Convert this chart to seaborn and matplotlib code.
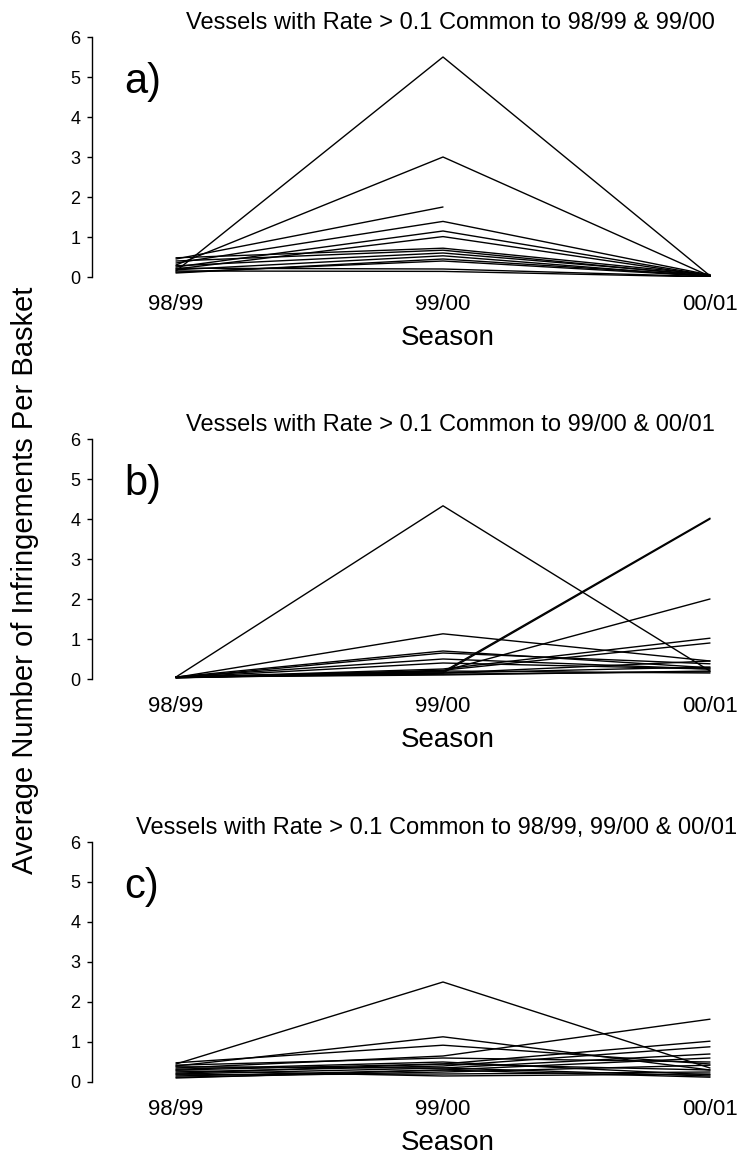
import numpy as np
import pandas as pd
import matplotlib
matplotlib.use("Agg")
import matplotlib.pyplot as plt
import seaborn as sns

seasons = ["98/99", "99/00", "00/01"]

# Panel a: vessels common to 98/99 & 99/00 (values per season)
a_9899 = [0.15, 0.30, 0.45, 0.35, 0.25, 0.20, 0.48, 0.40, 0.18, 0.28, 0.12, 0.22, 0.15, 0.10]
a_9900 = [5.50, 3.00, 1.75, 1.39, 1.15, 1.01, 0.72, 0.67, 0.53, 0.60, 0.40, 0.20, 0.14, 0.45]
a_0001 = [0.03, 0.02, np.nan, 0.05, 0.04, 0.03, 0.06, 0.02, 0.01, 0.05, 0.02, 0.01, 0.00, 0.03]

# Panel b: vessels common to 99/00 & 00/01
b_9899 = [0.05, 0.03, 0.04, 0.05, 0.04, 0.05, 0.03, 0.05, 0.04, 0.03, 0.05, 0.04, 0.05, 0.03, 0.04, 0.05]
b_9900 = [4.33, 0.15, 0.18, 0.20, 1.13, 0.70, 0.65, 0.50, 0.25, 0.22, 0.15, 0.15, 0.12, 0.20, 0.40, 0.10]
b_0001 = [0.20, 4.00, 4.02, 2.00, 0.45, 0.28, 0.38, 0.25, 1.02, 0.90, 0.45, 0.30, 0.18, 0.15, 0.25, 0.20]

# Panel c: vessels common to 98/99, 99/00 & 00/01
c_9899 = [0.45, 0.40, 0.48, 0.35, 0.30, 0.25, 0.20, 0.15, 0.42, 0.12, 0.18, 0.38, 0.28, 0.10, 0.22, 0.32]
c_9900 = [2.50, 1.13, 0.92, 0.65, 0.45, 0.40, 0.35, 0.30, 0.60, 0.25, 0.20, 0.35, 0.15, 0.30, 0.45, 0.50]
c_0001 = [0.35, 0.30, 0.45, 1.57, 1.02, 0.88, 0.70, 0.60, 0.50, 0.42, 0.25, 0.15, 0.20, 0.12, 0.30, 0.18]

titles = ["Vessels with Rate > 0.1 Common to 98/99 & 99/00",
          "Vessels with Rate > 0.1 Common to 99/00 & 00/01",
          "Vessels with Rate > 0.1 Common to 98/99, 99/00 & 00/01"]
letters = ["a)", "b)", "c)"]
yticks = [0, 1, 2, 3, 4, 5, 6]
ylabel = "Average Number of Infringements Per Basket"
xlabel = "Season"


def to_long(v1, v2, v3):
    rows = []
    for i, vals in enumerate(zip(v1, v2, v3)):
        for s, v in zip(seasons, vals):
            rows.append({"vessel": i, "Season": s, "rate": v})
    return pd.DataFrame(rows)


panels = [to_long(a_9899, a_9900, a_0001),
          to_long(b_9899, b_9900, b_0001),
          to_long(c_9899, c_9900, c_0001)]

sns.set_theme(style="white")
plt.rcParams["font.family"] = ["Liberation Sans", "DejaVu Sans"]

W, H = 744, 1161
fig = plt.figure(figsize=(W / 100, H / 100), dpi=100)

ax_left, ax_right = 92, 730
bottoms = [277, 679, 1082]
season_y = [338, 740, 1143]
title_x = [450, 450, 437]

for k, df in enumerate(panels):
    b = bottoms[k]
    ax = fig.add_axes([ax_left / W, 1 - b / H, (ax_right - ax_left) / W, 240 / H])
    sns.lineplot(data=df.dropna(), x="Season", y="rate", units="vessel",
                 estimator=None, color="black", linewidth=1.0, ax=ax,
                 sort=False)
    ax.set_xlim(-84 / 267, 2 + 20 / 267)
    ax.set_ylim(0, 6)
    ax.set_yticks(yticks)
    ax.set_xticks([0, 1, 2])
    ax.set_xticklabels(seasons)
    for sp in ["top", "right", "bottom"]:
        ax.spines[sp].set_visible(False)
    ax.spines["left"].set_color("black")
    ax.spines["left"].set_linewidth(1.0)
    ax.tick_params(axis="y", which="both", left=True, length=3.5, width=1,
                   color="black", labelsize=13, pad=5, labelcolor="black")
    ax.tick_params(axis="x", which="both", bottom=False, length=0,
                   labelsize=16, pad=12, labelcolor="black")
    ax.set_ylabel("")
    ax.set_xlabel(xlabel, fontsize=20, color="black")
    ax.xaxis.set_label_coords((448 - ax_left) / (ax_right - ax_left),
                              (b - season_y[k]) / 240)
    ax.xaxis.label.set_va("center")
    ax.text((title_x[k] - ax_left) / (ax_right - ax_left), 1.06, titles[k],
            transform=ax.transAxes, ha="center", va="center", fontsize=17,
            color="black")
    ax.text(0.05, 4.6, letters[k], transform=ax.get_yaxis_transform(),
            ha="left", va="baseline", fontsize=30, color="black")
    ax.grid(False)

fig.text(25 / W, 1 - 580 / H, ylabel, rotation=90, ha="center", va="center",
         fontsize=21, color="black")

fig.savefig("out.png", dpi=100, facecolor="white")
